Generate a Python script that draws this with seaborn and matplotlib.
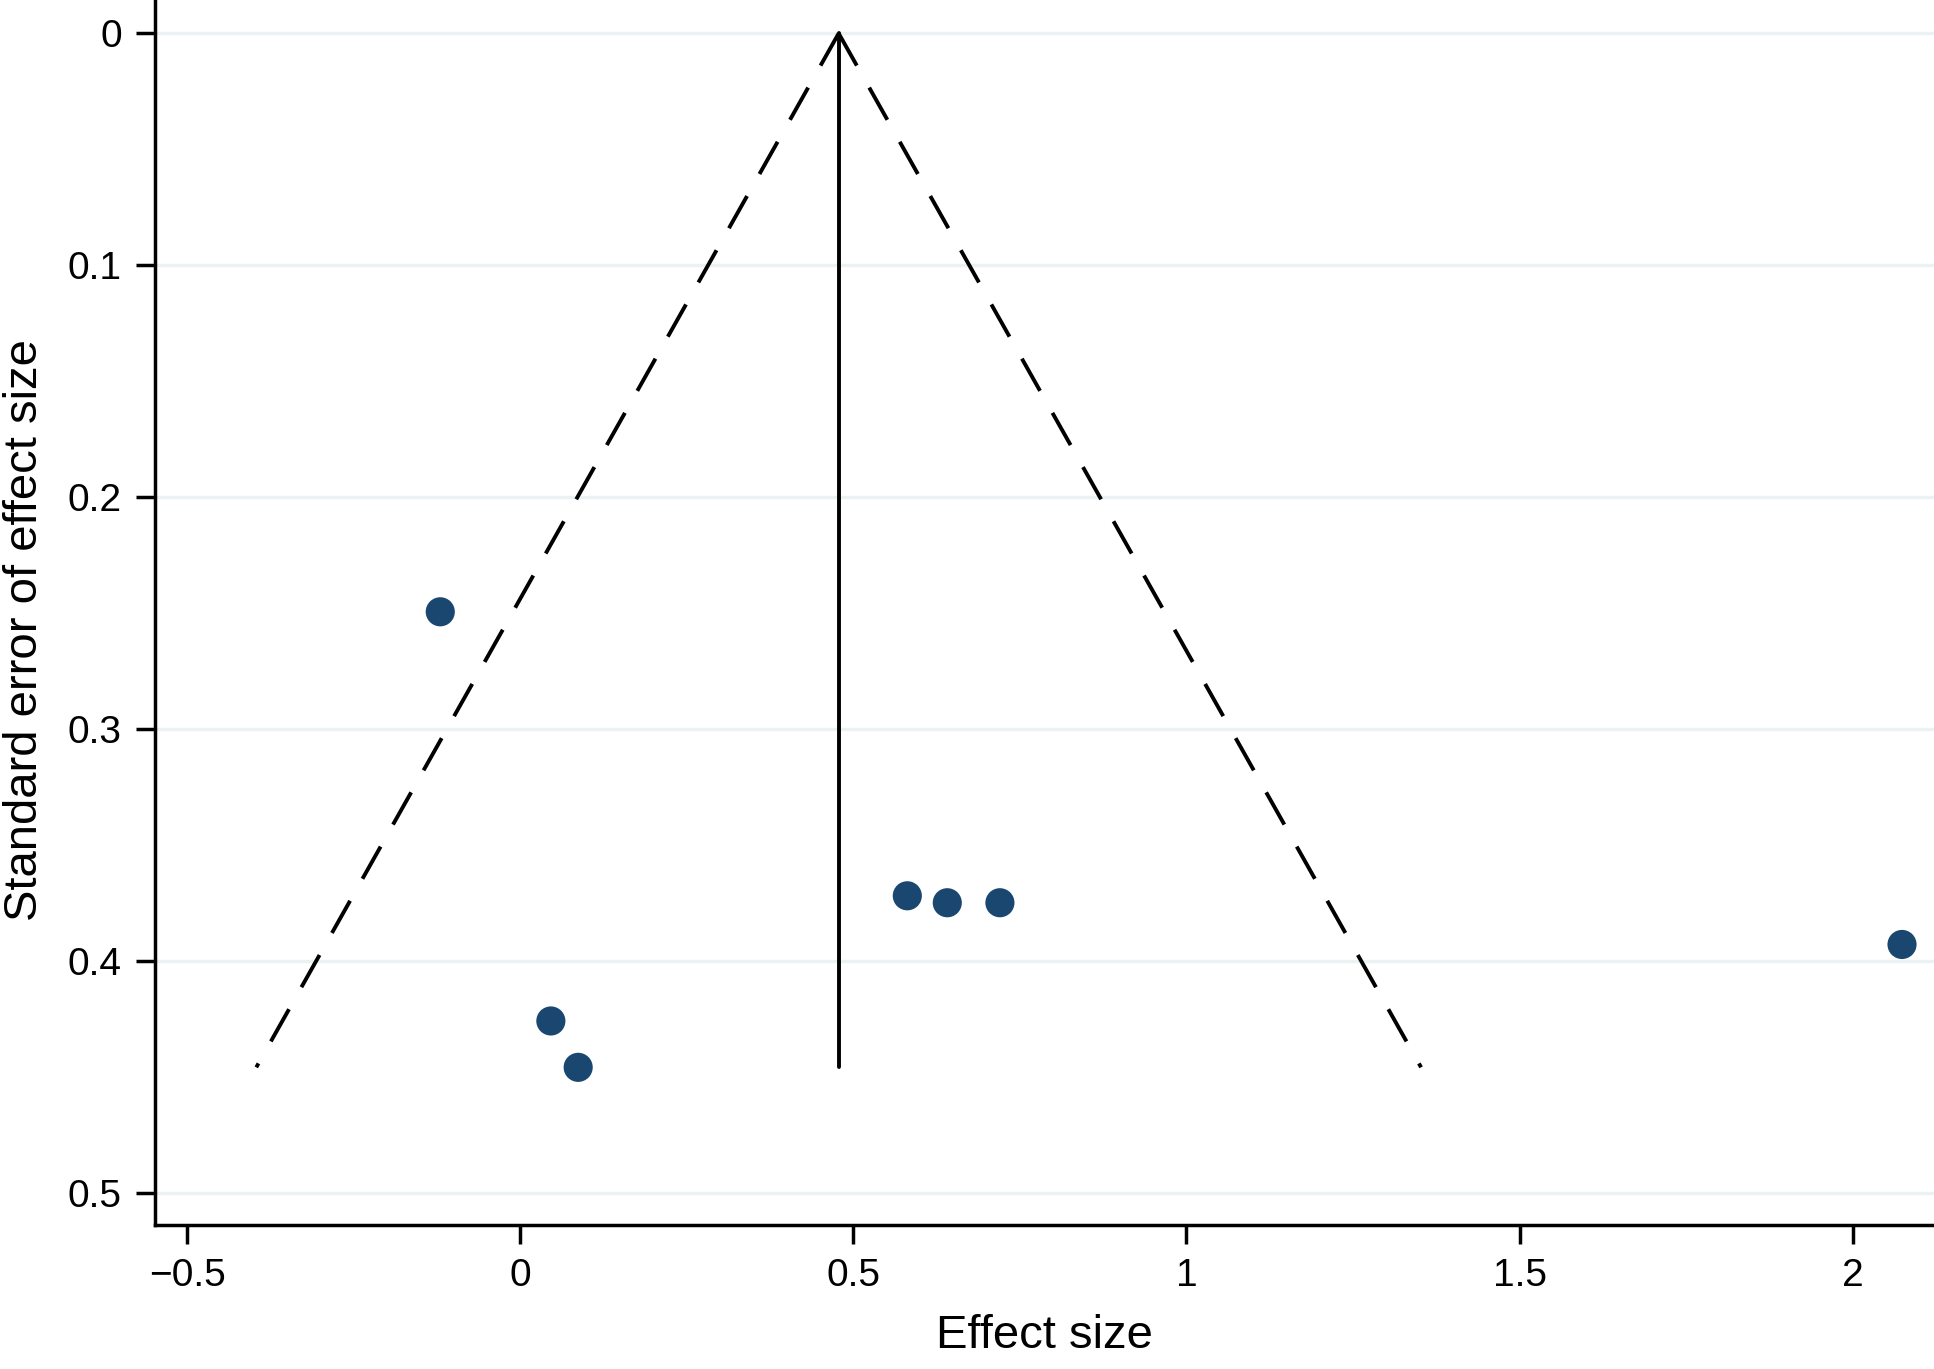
import matplotlib
matplotlib.use("Agg")
import matplotlib.pyplot as plt
import seaborn as sns
import pandas as pd

# Data
effect_size = [-0.120, 0.046, 0.087, 0.581, 0.641, 0.720, 2.074]
std_error = [0.2495, 0.426, 0.446, 0.372, 0.375, 0.375, 0.393]
pooled_effect = 0.478
max_se = 0.446
z_crit = 1.96
x_ticks = [-0.5, 0, 0.5, 1, 1.5, 2]
x_tick_labels = ["\u22120.5", "0", "0.5", "1", "1.5", "2"]
y_ticks = [0, 0.1, 0.2, 0.3, 0.4, 0.5]
y_tick_labels = ["0", "0.1", "0.2", "0.3", "0.4", "0.5"]

df = pd.DataFrame({"Effect size": effect_size, "SE": std_error})

sns.set_theme(style="white")
plt.rcParams['font.family'] = ['Liberation Sans', 'DejaVu Sans']

fig = plt.figure(figsize=(19.34, 13.69), dpi=100)
ax = fig.add_axes([0.0802, 0.1052, 0.9198, 0.8948])

for yt in y_ticks:
    ax.axhline(yt, color="#eaf2f3", lw=2.4, zorder=0)

# funnel limits
left_x = [pooled_effect, pooled_effect - z_crit * max_se]
right_x = [pooled_effect, pooled_effect + z_crit * max_se]
funnel_y = [0, max_se]
dash = (0, (9.5, 6.5))
ax.plot(left_x, funnel_y, color="black", lw=2.8, linestyle=dash, zorder=2)
ax.plot(right_x, funnel_y, color="black", lw=2.8, linestyle=dash, zorder=2)
ax.plot([pooled_effect, pooled_effect], funnel_y, color="black", lw=2.8, zorder=2)

sns.scatterplot(data=df, x="Effect size", y="SE", ax=ax, s=440, color="#1a476f",
                edgecolor="none", zorder=3, clip_on=False)

ax.set_xlim(-0.548, 2.122)
ax.set_ylim(0.514, -0.0144)
ax.set_xticks(x_ticks)
ax.set_xticklabels(x_tick_labels)
ax.set_yticks(y_ticks)
ax.set_yticklabels(y_tick_labels)

for s in ["top", "right"]:
    ax.spines[s].set_visible(False)
for s in ["left", "bottom"]:
    ax.spines[s].set_color("black")
    ax.spines[s].set_linewidth(2.5)

ax.tick_params(axis="both", which="major", direction="out", length=14, width=2.5,
               color="black", labelsize=28, pad=10, labelcolor="black",
               left=True, bottom=True)
ax.set_xlabel("Effect size", fontsize=34, color="black", labelpad=14)
ax.set_ylabel("Standard error of effect size", fontsize=34, color="black")
ax.yaxis.set_label_coords(-0.061, 0.486)

fig.savefig("out.png", dpi=100)
